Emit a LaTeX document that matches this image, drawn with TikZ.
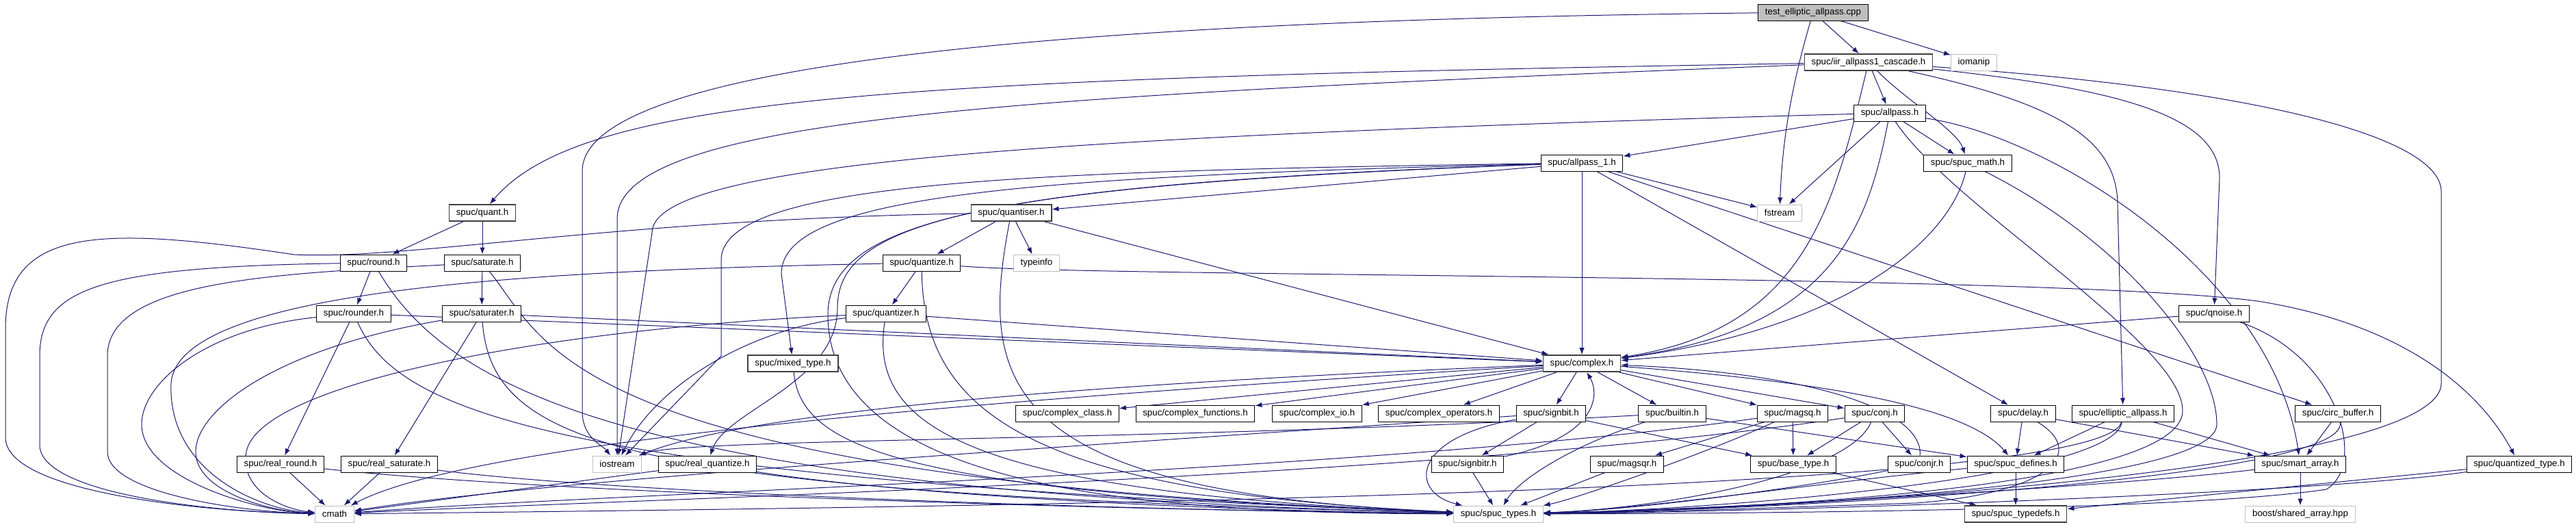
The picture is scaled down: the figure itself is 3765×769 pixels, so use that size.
\documentclass[tikz,border=0pt]{standalone}
\usepackage{fontspec}
\setmainfont{Liberation Sans}
\usepackage{xcolor}
\definecolor{edgeblue}{HTML}{191970}
\definecolor{darkedge}{HTML}{404040}
\definecolor{greyline}{HTML}{BFBFBF}
\definecolor{rootfill}{HTML}{BFBFBF}
\usetikzlibrary{arrows.meta, backgrounds}

\begin{document}
\begin{tikzpicture}[
			x=0.75pt, y=-0.75pt,
			hdr/.style={
				rectangle,
				draw=black,
				line width=0.75pt,
				fill=white,
				minimum height=18pt,
				inner xsep=7.6pt,
				inner ysep=0pt,
				font=\fontsize{10}{12}\selectfont,
			},
			hdrdark/.style={hdr, draw=darkedge, line width=1.2pt},
			sysinc/.style={hdr, draw=greyline},
			rootfile/.style={hdr, fill=rootfill},
			dep/.style={-{Latex[length=7.5pt,width=5.5pt]}, draw=edgeblue, line width=0.75pt},
			]
			\useasboundingbox (0,0) rectangle (3765,769);
			% rows 1-4
			\node[rootfile] (test) at (2650,18) {test\_elliptic\_allpass.cpp};
			\node[hdrdark] (iir) at (2731,91) {spuc/iir\_allpass1\_cascade.h};
			\node[sysinc] (iomanip) at (2885,91) {iomanip};
			\node[hdr] (allpass) at (2762,165) {spuc/allpass.h};
			\node[hdr] (allpassone) at (2312,238) {spuc/allpass\_1.h};
			\node[hdr] (spucmath) at (2876,238) {spuc/spuc\_math.h};
			% rows 5-8
			\node[hdrdark] (quant) at (705,311) {spuc/quant.h};
			\node[hdrdark] (quantiser) at (1478,311) {spuc/quantiser.h};
			\node[sysinc] (fstream) at (2601,311) {fstream};
			\node[hdr] (round) at (546,384) {spuc/round.h};
			\node[hdr] (saturate) at (705,384) {spuc/saturate.h};
			\node[hdr] (quantize) at (1347,384) {spuc/quantize.h};
			\node[sysinc] (typeinfo) at (1515,384) {typeinfo};
			\node[hdr] (rounder) at (517,458) {spuc/rounder.h};
			\node[hdr] (saturater) at (704,458) {spuc/saturater.h};
			\node[hdr] (quantizer) at (1295,458) {spuc/quantizer.h};
			\node[hdr] (qnoise) at (3236,458) {spuc/qnoise.h};
			\node[hdrdark] (mixedtype) at (1159,531) {spuc/mixed\_type.h};
			\node[hdrdark] (complex) at (2312,531) {spuc/complex.h};
			% row 9
			\node[hdr] (cclass) at (1560,604) {spuc/complex\_class.h};
			\node[hdr] (cfunc) at (1747,604) {spuc/complex\_functions.h};
			\node[hdr] (cio) at (1925,604) {spuc/complex\_io.h};
			\node[hdr] (cops) at (2103,604) {spuc/complex\_operators.h};
			\node[hdr] (signbit) at (2267,604) {spuc/signbit.h};
			\node[hdr] (builtin) at (2444,604) {spuc/builtin.h};
			\node[hdr] (magsq) at (2620,604) {spuc/magsq.h};
			\node[hdr] (conj) at (2740,604) {spuc/conj.h};
			\node[hdr] (delay) at (2957,604) {spuc/delay.h};
			\node[hdr] (elliptic) at (3103,604) {spuc/elliptic\_allpass.h};
			\node[hdr] (circbuf) at (3417,604) {spuc/circ\_buffer.h};
			% row 10
			\node[hdr] (realround) at (410,678) {spuc/real\_round.h};
			\node[hdr] (realsat) at (569,678) {spuc/real\_saturate.h};
			\node[sysinc] (iostream) at (902,678) {iostream};
			\node[hdr] (realquant) at (1034,678) {spuc/real\_quantize.h};
			\node[hdr] (signbitr) at (2145,678) {spuc/signbitr.h};
			\node[hdr] (magsqr) at (2378,678) {spuc/magsqr.h};
			\node[hdr] (basetype) at (2621,678) {spuc/base\_type.h};
			\node[hdr] (conjr) at (2805,678) {spuc/conjr.h};
			\node[hdr] (defines) at (2946,678) {spuc/spuc\_defines.h};
			\node[hdr] (smartarr) at (3362,678) {spuc/smart\_array.h};
			\node[hdr] (qtype) at (3682,678) {spuc/quantized\_type.h};
			% row 11
			\node[sysinc] (cmath) at (489,751) {cmath};
			\node[sysinc] (types) at (2190,751) {spuc/spuc\_types.h};
			\node[hdrdark] (typedefs) at (2946,751) {spuc/spuc\_typedefs.h};
			\node[sysinc] (boostsa) at (3362,751) {boost/shared\_array.hpp};

			\begin{scope}[on background layer]
			% test file and cascade
			\draw[dep] (test) -- (iir);
			\draw[dep] (test) -- (iomanip);
			\draw[dep] (test) .. controls (2620,120) and (2605,200) .. (fstream);
			\draw[dep] (test) .. controls (1500,30) and (851,100) .. (851,250) -- (851,600) .. controls (851,640) and (880,650) .. (iostream);
			\draw[dep] (iir) .. controls (1300,115) and (850,140) .. (quant);
			\draw[dep] (iir) .. controls (1500,140) and (902,170) .. (902,320) -- (iostream);
			\draw[dep] (iir) -- (allpass);
			\draw[dep] (iir) .. controls (2790,150) and (2860,190) .. (spucmath);
			\draw[dep] (iir) .. controls (2680,300) and (2640,480) .. (complex);
			\draw[dep] (iir) .. controls (3000,150) and (3095,200) .. (3095,300) -- (elliptic);
			\draw[dep] (iir) .. controls (3100,130) and (3244,170) .. (3244,260) -- (qnoise);
			\draw[dep] (iir) .. controls (3300,130) and (3568,200) .. (3568,280) -- (3568,560) .. controls (3568,690) and (2600,745) .. (types);
			% allpass
			\draw[dep] (allpass) .. controls (1500,200) and (953,240) .. (953,340) -- (iostream);
			\draw[dep] (allpass) -- (allpassone);
			\draw[dep] (allpass) -- (fstream);
			\draw[dep] (allpass) -- (spucmath);
			\draw[dep] (allpass) .. controls (2730,330) and (2680,480) .. (complex);
			\draw[dep] (allpass) .. controls (2850,300) and (3190,500) .. (3190,600) .. controls (3190,700) and (2700,740) .. (types);
			\draw[dep] (allpass) .. controls (3000,200) and (3320,400) .. (smartarr);
			\draw[dep] (spucmath) .. controls (2850,350) and (2700,480) .. (complex);
			\draw[dep] (spucmath) .. controls (3100,350) and (3240,520) .. (3240,620) .. controls (3240,700) and (2700,740) .. (types);
			% allpass_1
			\draw[dep] (allpassone) -- (quantiser);
			\draw[dep] (allpassone) -- (complex);
			\draw[dep] (allpassone) -- (fstream);
			\draw[dep] (allpassone) -- (delay);
			\draw[dep] (allpassone) -- (circbuf);
			\draw[dep] (allpassone) .. controls (1500,250) and (1054,265) .. (1054,380) -- (1054,520) -- (iostream);
			\draw[dep] (allpassone) .. controls (1500,258) and (1142,285) .. (1142,400) -- (mixedtype);
			\draw[dep] (allpassone) .. controls (1400,270) and (1224,330) .. (1224,450) .. controls (1224,560) and (1060,600) .. (realquant);
			\draw[dep] (allpassone) .. controls (1450,270) and (1210,320) .. (1210,460) .. controls (1210,720) and (1700,750) .. (types);
			% quantisers
			\draw[dep] (quant) -- (round);
			\draw[dep] (quant) -- (saturate);
			\draw[dep] (quantiser) -- (quantize);
			\draw[dep] (quantiser) -- (typeinfo);
			\draw[dep] (quantiser) -- (complex);
			\draw[dep] (quantiser) .. controls (1430,560) and (1460,720) .. (types);
			\draw[dep] (quantiser) .. controls (900,320) and (600,380) .. (430,372) .. controls (150,330) and (8,330) .. (8,480) -- (8,640) .. controls (10,720) and (300,748) .. (cmath);
			\draw[dep] (round) -- (rounder);
			\draw[dep] (round) .. controls (150,390) and (58,420) .. (58,520) -- (58,650) .. controls (58,720) and (300,748) .. (cmath);
			\draw[dep] (round) .. controls (650,560) and (900,720) .. (types);
			\draw[dep] (saturate) -- (saturater);
			\draw[dep] (saturate) .. controls (400,400) and (157,410) .. (157,520) -- (157,660) .. controls (157,720) and (350,748) .. (cmath);
			\draw[dep] (saturate) .. controls (800,500) and (820,700) .. (types);
			\draw[dep] (quantize) -- (quantizer);
			\draw[dep] (quantize) .. controls (1600,405) and (3000,400) .. (3300,440) .. controls (3550,480) and (3640,600) .. (qtype);
			\draw[dep] (quantize) .. controls (1350,600) and (1500,720) .. (types);
			\draw[dep] (quantize) .. controls (800,395) and (260,420) .. (250,560) .. controls (245,690) and (380,745) .. (cmath);
			\draw[dep] (rounder) -- (realround);
			\draw[dep] (rounder) .. controls (300,480) and (207,560) .. (207,620) .. controls (207,700) and (380,748) .. (cmath);
			\draw[dep] (rounder) .. controls (580,600) and (800,700) .. (types);
			\draw[dep] (rounder) -- (complex);
			\draw[dep] (saturater) -- (realsat);
			\draw[dep] (saturater) .. controls (400,510) and (286,600) .. (286,660) .. controls (286,720) and (400,748) .. (cmath);
			\draw[dep] (saturater) .. controls (720,650) and (900,720) .. (types);
			\draw[dep] (saturater) -- (complex);
			\draw[dep] (quantizer) .. controls (1100,480) and (960,560) .. (iostream);
			\draw[dep] (quantizer) .. controls (800,480) and (380,560) .. (360,660) .. controls (350,720) and (420,745) .. (cmath);
			\draw[dep] (quantizer) .. controls (1270,620) and (1400,720) .. (types);
			\draw[dep] (quantizer) -- (complex);
			\draw[dep] (qnoise) -- (complex);
			\draw[dep] (qnoise) .. controls (3420,520) and (3460,680) .. (3400,715) .. controls (3200,745) and (2600,750) .. (types);
			\draw[dep] (mixedtype) .. controls (1170,650) and (1300,720) .. (types);
			% complex
			\draw[dep] (complex) -- (cclass);
			\draw[dep] (complex) -- (cfunc);
			\draw[dep] (complex) -- (cio);
			\draw[dep] (complex) -- (cops);
			\draw[dep] (complex) -- (signbit);
			\draw[dep] (complex) -- (builtin);
			\draw[dep] (complex) -- (magsq);
			\draw[dep] (complex) -- (conj);
			\draw[dep] (complex) .. controls (2700,560) and (2880,600) .. (defines);
			\draw[dep] (complex) .. controls (1600,560) and (1100,600) .. (iostream);
			\draw[dep] (complex) .. controls (1500,580) and (700,640) .. (cmath);
			\draw[dep] (signbit) -- (signbitr);
			\draw[dep] (signbit) .. controls (2060,640) and (2060,720) .. (types);
			\draw[dep] (signbit) .. controls (1600,650) and (800,700) .. (cmath);
			\draw[dep] (signbit) -- (basetype);
			\draw[dep] (builtin) .. controls (2300,650) and (2220,700) .. (types);
			\draw[dep] (builtin) .. controls (1700,645) and (1000,640) .. (iostream);
			\draw[dep] (builtin) -- (defines);
			\draw[dep] (magsq) -- (basetype);
			\draw[dep] (magsq) -- (magsqr);
			\draw[dep] (magsq) .. controls (2500,660) and (2300,730) .. (types);
			\draw[dep] (magsq) .. controls (2000,690) and (900,720) .. (cmath);
			\draw[dep] (conj) -- (basetype);
			\draw[dep] (conj) -- (conjr);
			\draw[dep] (conj) .. controls (2700,700) and (2400,745) .. (types);
			\draw[dep] (conj) .. controls (2100,700) and (900,730) .. (cmath);
			\draw[dep] (conjr) .. controls (2812,600) and (2650,545) .. (complex);
			\draw[dep] (conjr) .. controls (2650,710) and (2400,745) .. (types);
			\draw[dep] (signbitr) .. controls (2330,640) and (2340,580) .. (complex);
			\draw[dep] (signbitr) -- (types);
			\draw[dep] (magsqr) -- (types);
			% lower right
			\draw[dep] (basetype) -- (typedefs);
			\draw[dep] (defines) -- (typedefs);
			\draw[dep] (defines) .. controls (2700,700) and (2400,745) .. (types);
			\draw[dep] (delay) -- (defines);
			\draw[dep] (delay) -- (smartarr);
			\draw[dep] (delay) .. controls (3050,660) and (3000,720) .. (2800,735) .. controls (2500,745) and (2350,750) .. (types);
			\draw[dep] (elliptic) -- (defines);
			\draw[dep] (elliptic) -- (smartarr);
			\draw[dep] (elliptic) .. controls (3090,700) and (2500,745) .. (types);
			\draw[dep] (elliptic) .. controls (3080,720) and (1500,740) .. (cmath);
			\draw[dep] (circbuf) -- (smartarr);
			\draw[dep] (circbuf) .. controls (3440,700) and (2600,745) .. (types);
			\draw[dep] (smartarr) -- (boostsa);
			\draw[dep] (smartarr) .. controls (3100,710) and (2500,745) .. (types);
			\draw[dep] (qtype) -- (typedefs);
			\draw[dep] (qtype) .. controls (3400,720) and (2600,748) .. (types);
			\draw[dep] (realround) -- (cmath);
			\draw[dep] (realround) .. controls (800,720) and (1600,745) .. (types);
			\draw[dep] (realsat) -- (cmath);
			\draw[dep] (realsat) .. controls (900,720) and (1600,745) .. (types);
			\draw[dep] (realquant) -- (cmath);
			\draw[dep] (realquant) .. controls (1300,720) and (1700,745) .. (types);
			\end{scope}
		\end{tikzpicture}
\end{document}
